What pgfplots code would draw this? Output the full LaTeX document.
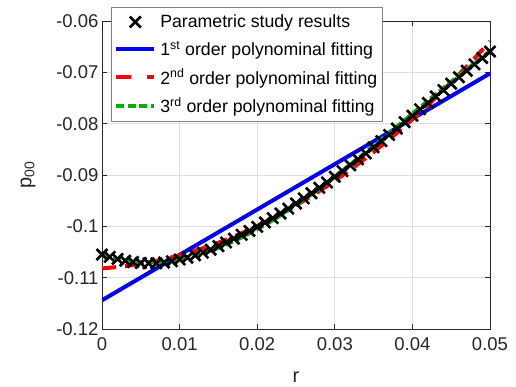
\documentclass[border=0pt]{standalone}
\usepackage{pgfplots}
\pgfplotsset{compat=1.18}
\usepackage{fontspec}
\setmainfont{Liberation Sans}
\definecolor{mblue}{RGB}{0,0,255}
\definecolor{mred}{RGB}{255,0,0}
\definecolor{mgreen}{RGB}{0,178,0}
\definecolor{axgray}{RGB}{38,38,38}
\begin{document}
\begin{tikzpicture}
\begin{axis}[
  scale only axis, width=388pt, height=308pt,
  xmin=0, xmax=0.05, ymin=-0.12, ymax=-0.06,
  xtick={0,0.01,0.02,0.03,0.04,0.05},
  xticklabels={0,0.01,0.02,0.03,0.04,0.05},
  ytick={-0.12,-0.11,-0.1,-0.09,-0.08,-0.07,-0.06},
  yticklabels={-0.12,-0.11,-0.1,-0.09,-0.08,-0.07,-0.06},
  scaled ticks=false,
  tick align=inside, major tick length=5pt,
  grid=major, grid style={color=black!13, line width=0.7pt},
  axis line style={color=axgray, line width=0.9pt},
  every tick/.style={color=axgray, line width=0.9pt},
  tick label style={font=\fontsize{18.5}{18.5}\selectfont, color=axgray},
  xticklabel shift=5pt,
  xlabel={r}, ylabel={p\textsubscript{00}},
  xlabel shift=14pt, ylabel shift=14pt,
  label style={font=\fontsize{20}{20}\selectfont, color=axgray},
  legend cell align=left,
  legend style={at={(0.023,1.044)}, anchor=north west, draw=black!50, line width=0.8pt,
    fill=white, font=\fontsize{17.7}{17.7}\selectfont, row sep=8pt, column sep=2pt,
    inner xsep=3pt, inner ysep=5pt},
]
\addplot[only marks, mark=x, mark size=7.8pt, mark options={line width=2.6pt, black}, line width=2.6pt,
  legend image code/.code={\draw[line width=2.6pt, black] (19pt,0pt) plot[mark=x, mark size=7.8pt] coordinates {(19pt,0pt)};}]
coordinates {
(0,-0.10550) (0.001,-0.10595) (0.002,-0.10635) (0.003,-0.10670) (0.004,-0.10695)
(0.005,-0.10715) (0.006,-0.10720) (0.007,-0.10720) (0.008,-0.10705) (0.009,-0.10680)
(0.010,-0.10645) (0.011,-0.10610) (0.012,-0.10565) (0.013,-0.10515) (0.014,-0.10455)
(0.015,-0.10385) (0.016,-0.10315) (0.017,-0.10240) (0.018,-0.10165) (0.019,-0.10090)
(0.020,-0.10010) (0.021,-0.09925) (0.022,-0.09840) (0.023,-0.09750) (0.024,-0.09655)
(0.025,-0.09555) (0.026,-0.09455) (0.027,-0.09355) (0.028,-0.09250) (0.029,-0.09145)
(0.030,-0.09035) (0.031,-0.08925) (0.032,-0.08810) (0.033,-0.08695) (0.034,-0.08580)
(0.035,-0.08460) (0.036,-0.08340) (0.037,-0.08220) (0.038,-0.08095) (0.039,-0.07970)
(0.040,-0.07845) (0.041,-0.07720) (0.042,-0.07595) (0.043,-0.07470) (0.044,-0.07345)
(0.045,-0.07220) (0.046,-0.07095) (0.047,-0.06970) (0.048,-0.06845) (0.049,-0.06720)
(0.050,-0.06595)
};
\addlegendentry{Parametric study results}
\addplot[mblue, line width=4pt, no marks,
  legend image code/.code={\draw[mblue, line width=4pt] (0pt,0pt) -- (38pt,0pt);}]
coordinates {(0,-0.1144) (0.05,-0.0702)};
\addlegendentry{1\textsuperscript{st} order polynominal fitting}
\addplot[mred, line width=4pt, no marks, dash pattern=on 14pt off 9pt,
  legend image code/.code={\draw[mred, line width=4pt, dash pattern=on 14.5pt off 16pt] (0pt,0pt) -- (38pt,0pt);}]
coordinates {
(0,-0.108200) (0.0025,-0.107858) (0.005,-0.107320) (0.0075,-0.106584) (0.01,-0.105652)
(0.0125,-0.104523) (0.015,-0.103198) (0.0175,-0.101677) (0.02,-0.099958) (0.0225,-0.098043)
(0.025,-0.095931) (0.0275,-0.093623) (0.03,-0.091118) (0.0325,-0.088416) (0.035,-0.085518)
(0.0375,-0.082424) (0.04,-0.079132) (0.0425,-0.075643) (0.045,-0.071960) (0.0475,-0.068078)
(0.05,-0.064000)
};
\addlegendentry{2\textsuperscript{nd} order polynominal fitting}
\addplot[mgreen, line width=4pt, no marks, dash pattern=on 8pt off 3.5pt,
  legend image code/.code={\draw[mgreen, line width=4pt, dash pattern=on 8pt off 3.5pt] (0pt,0pt) -- (38pt,0pt);}]
coordinates {
(0,-0.105700) (0.0025,-0.106633) (0.005,-0.107045) (0.0075,-0.106973) (0.01,-0.106450)
(0.0125,-0.105514) (0.015,-0.104199) (0.0175,-0.102541) (0.02,-0.100575) (0.0225,-0.098338)
(0.025,-0.095865) (0.0275,-0.093191) (0.03,-0.090351) (0.0325,-0.087382) (0.035,-0.084320)
(0.0375,-0.081198) (0.04,-0.078053) (0.0425,-0.074921) (0.045,-0.071838) (0.0475,-0.068838)
(0.05,-0.065955)
};
\addlegendentry{3\textsuperscript{rd} order polynominal fitting}
\end{axis}
\pgfresetboundingbox
\path (current axis.south west) ++(-102pt,-58pt) rectangle ++(516pt,387pt);
\end{tikzpicture}
\end{document}
